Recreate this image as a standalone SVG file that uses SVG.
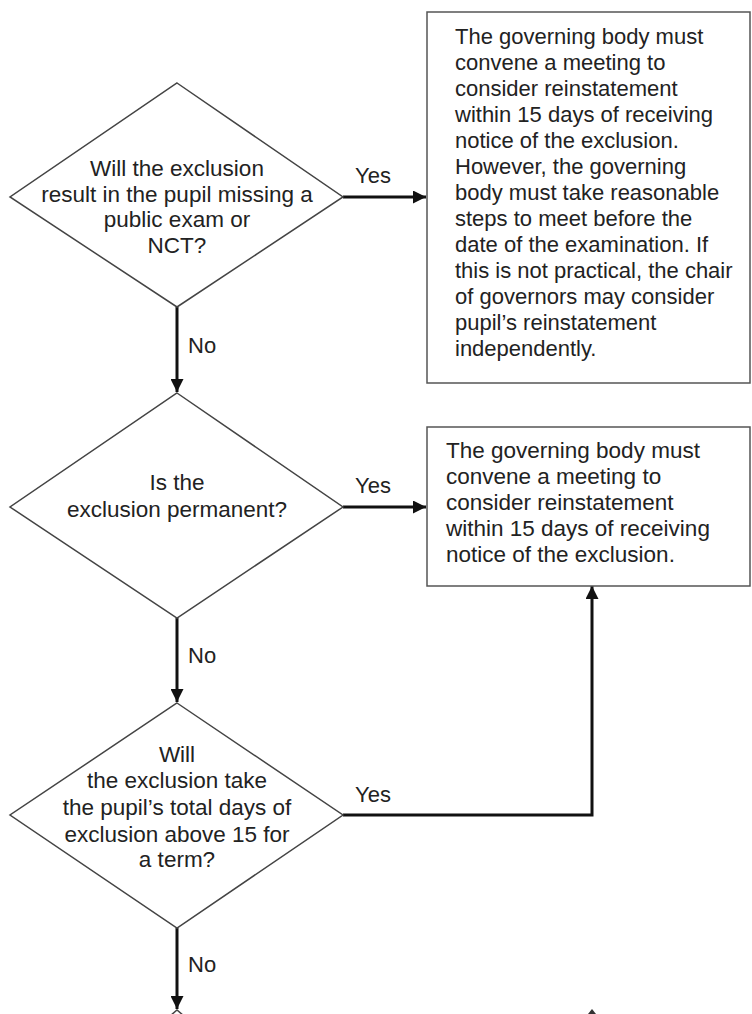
<svg xmlns="http://www.w3.org/2000/svg" width="752" height="1014" viewBox="0 0 752 1014">
<style>
text{font-family:"Liberation Sans",Arial,sans-serif;fill:#222}
.d{fill:#fff;stroke:#444;stroke-width:1.5}
.b{fill:#fff;stroke:#555;stroke-width:1.5}
.c{fill:none;stroke:#111;stroke-width:3}
.q{font-size:22.5px;text-anchor:middle}
.t1{font-size:22px}
.t2{font-size:22.5px}
.l{font-size:22px}
</style>
<defs>
<marker id="ah" markerUnits="userSpaceOnUse" markerWidth="13" markerHeight="13" refX="13" refY="6.5" orient="auto">
<path d="M0,0 L13,6.5 L0,13 z" fill="#111"/>
</marker>
</defs>
<rect width="752" height="1014" fill="#fff"/>
<g id="connectors">
<path class="c" d="M343,197 H426" marker-end="url(#ah)"/>
<path class="c" d="M177,307 V392" marker-end="url(#ah)"/>
<path class="c" d="M343,507 H426" marker-end="url(#ah)"/>
<path class="c" d="M177,618 V702" marker-end="url(#ah)"/>
<path class="c" d="M343,815 H592 V586" marker-end="url(#ah)"/>
<path class="c" d="M177,928 V1009" marker-end="url(#ah)"/>
<path d="M588,1014 L592,1009 L596,1014 z" fill="#333"/>
<path d="M170,1016 L177,1010 L184,1016" fill="none" stroke="#444" stroke-width="1.5"/>
<text class="l" x="355" y="183">Yes</text>
<text class="l" x="188" y="353">No</text>
<text class="l" x="355" y="493">Yes</text>
<text class="l" x="188" y="663">No</text>
<text class="l" x="355" y="802">Yes</text>
<text class="l" x="188" y="972">No</text>
</g>
<g id="q1">
<polygon class="d" points="177,83 343,197 177,307 10,197"/>
<text class="q" x="177" y="176">Will the exclusion</text>
<text class="q" x="177" y="202">result in the pupil missing a</text>
<text class="q" x="177" y="227">public exam or</text>
<text class="q" x="177" y="253">NCT?</text>
</g>
<g id="box1">
<rect class="b" x="427" y="12" width="323" height="371"/>
<text class="t1" x="455" y="44">The governing body must</text>
<text class="t1" x="455" y="70">convene a meeting to</text>
<text class="t1" x="455" y="96">consider reinstatement</text>
<text class="t1" x="455" y="122">within 15 days of receiving</text>
<text class="t1" x="455" y="148">notice of the exclusion.</text>
<text class="t1" x="455" y="174">However, the governing</text>
<text class="t1" x="455" y="200">body must take reasonable</text>
<text class="t1" x="455" y="226">steps to meet before the</text>
<text class="t1" x="455" y="252">date of the examination. If</text>
<text class="t1" x="455" y="278">this is not practical, the chair</text>
<text class="t1" x="455" y="304">of governors may consider</text>
<text class="t1" x="455" y="330">pupil’s reinstatement</text>
<text class="t1" x="455" y="356">independently.</text>
</g>
<g id="q2">
<polygon class="d" points="177,393 343,507 177,618 10,507"/>
<text class="q" x="177" y="490">Is the</text>
<text class="q" x="177" y="517">exclusion permanent?</text>
</g>
<g id="box2">
<rect class="b" x="427" y="427" width="323" height="159"/>
<text class="t2" x="446" y="458">The governing body must</text>
<text class="t2" x="446" y="484">convene a meeting to</text>
<text class="t2" x="446" y="510">consider reinstatement</text>
<text class="t2" x="446" y="536">within 15 days of receiving</text>
<text class="t2" x="446" y="562">notice of the exclusion.</text>
</g>
<g id="q3">
<polygon class="d" points="177,703 343,815 177,928 10,815"/>
<text class="q" x="177" y="762">Will</text>
<text class="q" x="177" y="788">the exclusion take</text>
<text class="q" x="177" y="815">the pupil’s total days of</text>
<text class="q" x="177" y="842">exclusion above 15 for</text>
<text class="q" x="177" y="867">a term?</text>
</g>
</svg>
